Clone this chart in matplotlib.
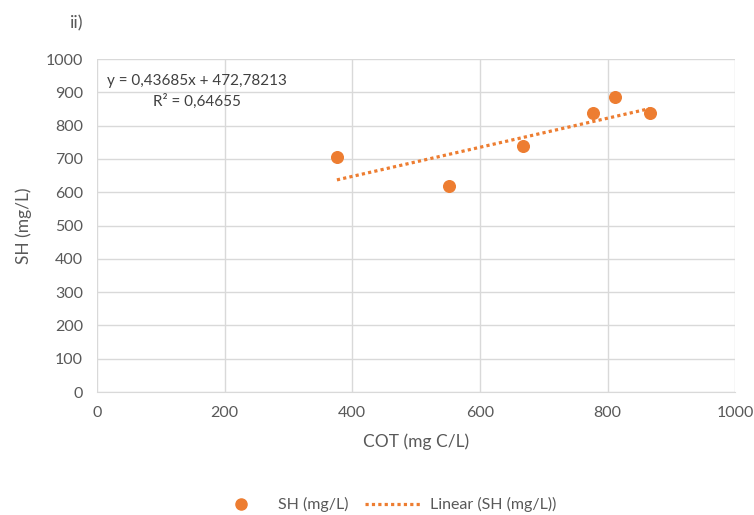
import numpy as np
import matplotlib.pyplot as plt
from matplotlib.lines import Line2D

# COT vs SH measurements
cot = [376, 552, 667, 778, 812, 866]
sh = [705, 620, 740, 839, 887, 839]

# linear trend as reported on the chart
slope = 0.43685
intercept = 472.78213
r2 = 0.64655

x_ticks = [0, 200, 400, 600, 800, 1000]
y_ticks = list(range(0, 1001, 100))

orange = "#ED7D31"
txt = "#595959"
grid = "#d9d9d9"

plt.rcParams['font.family'] = ['Lato', 'DejaVu Sans']

fig = plt.figure(figsize=(7.54, 5.15), dpi=100)
ax = fig.add_axes([0.1286, 0.2388, 0.8464, 0.6466])

ax.scatter(cot, sh, s=70, color=orange, zorder=3, label="SH (mg/L)")

xt = np.array([min(cot), max(cot)])
ax.plot(xt, slope * xt + intercept, color=orange, linestyle=(0, (1, 1)),
        linewidth=2.3, zorder=2, label="Linear (SH (mg/L))")

ax.set_xlim(0, 1000)
ax.set_ylim(0, 1000)
ax.set_xticks(x_ticks)
ax.set_yticks(y_ticks)
ax.grid(True, color=grid, linewidth=1)
ax.set_axisbelow(True)
for side in ["top", "right", "left"]:
    ax.spines[side].set_visible(False)
ax.spines["bottom"].set_color(grid)
ax.tick_params(length=0, labelsize=11.5, colors=txt, pad=10)

ax.set_xlabel("COT (mg C/L)", fontsize=12.5, color=txt, labelpad=10)
ax.set_ylabel("SH (mg/L)", fontsize=12.5, color=txt, labelpad=10)

eq = f"y = {slope:.5f}x + {intercept:.5f}".replace(".", ",")
ax.text(157, 903, eq + "\n" + f"R² = {r2:.5f}".replace(".", ","),
        ha="center", va="center", fontsize=11, color="#404040", linespacing=1.5)

fig.text(0.093, 0.955, "ii)", fontsize=13, color=txt, ha="left", va="center")

handles = [
    Line2D([], [], marker="o", linestyle="none", color=orange, markersize=8),
    Line2D([], [], color=orange, linestyle=(0, (1, 1)), linewidth=2.3),
]
fig.legend(handles, ["SH (mg/L)", "Linear (SH (mg/L))"], loc="center",
           bbox_to_anchor=(0.51, 0.02), ncol=2, frameon=False, fontsize=11.5,
           labelcolor=txt, handlelength=3.5, handletextpad=0.6,
           columnspacing=1.0)

fig.savefig("out.png", dpi=100)
